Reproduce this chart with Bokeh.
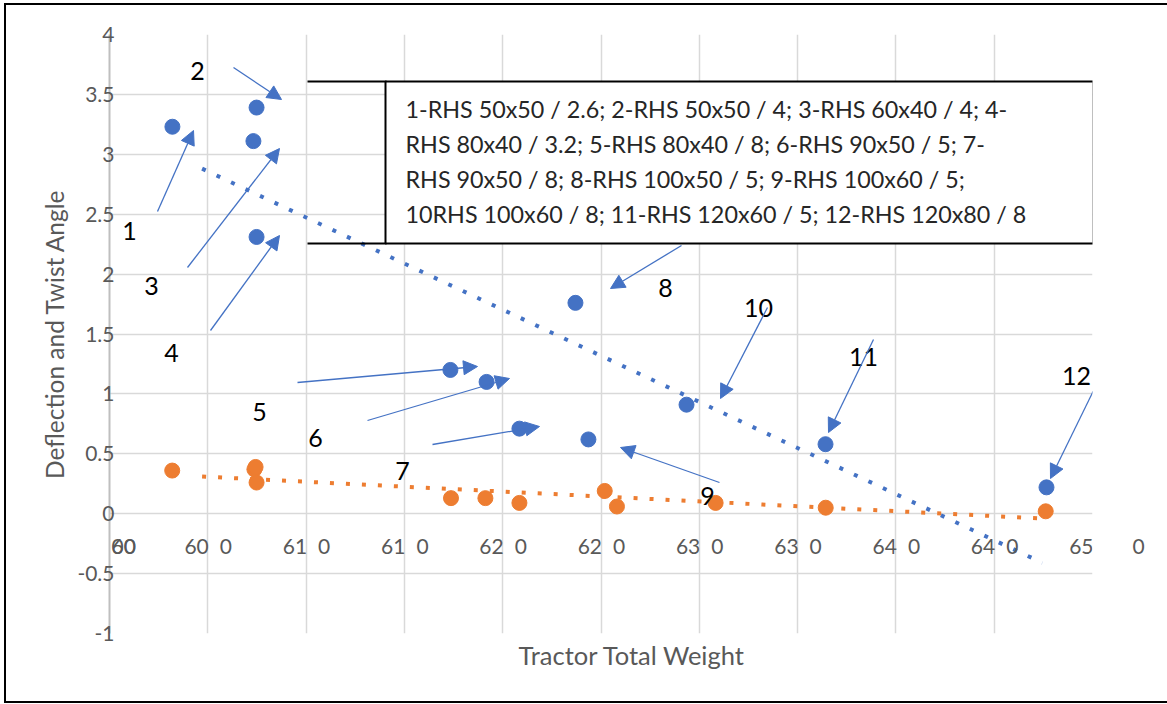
import numpy as np
from bokeh.plotting import figure
from bokeh.models import (Range1d, FixedTicker, NumeralTickFormatter, Label, Arrow,
                          NormalHead, BoxAnnotation, ColumnDataSource, Title, LinearAxis,
                          InlineStyleSheet)
from bokeh.core.properties import value
from bokeh.embed import file_html
from bokeh.resources import INLINE

# ---------------- data ----------------
weight_blue = [6032.0, 6074.8, 6073.2, 6074.8, 6173.4, 6191.8, 6208.5, 6237.0, 6243.6, 6293.5, 6364.2, 6476.6]
deflection = [3.23, 3.39, 3.11, 2.31, 1.20, 1.10, 0.71, 1.76, 0.62, 0.91, 0.58, 0.22]
weight_orange = [6031.9, 6073.7, 6074.3, 6074.8, 6173.7, 6191.2, 6208.5, 6251.9, 6258.1, 6308.3, 6364.3, 6476.2]
twist = [0.36, 0.37, 0.39, 0.26, 0.13, 0.13, 0.09, 0.19, 0.06, 0.09, 0.05, 0.02]

trend_weight = [6047.1, 6474.5]
trend_deflection = [2.88, -0.41]
trend_twist = [0.31, -0.04]

x_ticks = [6000, 6050, 6100, 6150, 6200, 6250, 6300, 6350, 6400, 6450, 6500]
x_tick_head = ["60", "60", "61", "61", "62", "62", "63", "63", "64", "64", "65"]
x_tick_tail = ["00", "0", "0", "0", "0", "0", "0", "0", "0", "0", "0"]
y_ticks = [-1, -0.5, 0, 0.5, 1, 1.5, 2, 2.5, 3, 3.5, 4]

point_labels = ["1", "2", "3", "4", "5", "6", "7", "8", "9", "10", "11", "12"]
legend_lines = [
    "1-RHS 50x50 / 2.6; 2-RHS 50x50 / 4; 3-RHS 60x40 / 4; 4-",
    "RHS 80x40 / 3.2; 5-RHS 80x40 / 8; 6-RHS 90x50 / 5; 7-",
    "RHS 90x50 / 8; 8-RHS 100x50 / 5; 9-RHS 100x60 / 5;",
    "10RHS 100x60 / 8; 11-RHS 120x60 / 5; 12-RHS 120x80 / 8",
]

BLUE = "#4472C4"
ORANGE = "#ED7D31"
GRAY_TXT = "#595959"
FONT = "Lato"
TICK_SIZE = "21px"

# ---------------- layout ----------------
W, H = 1167, 704
FL, FR, FT, FB = 109, 1092, 34, 633   # frame edges in pixels
X0, X1, Y0, Y1 = 6000, 6500, -1, 4


def px2x(px):
    return X0 + (px - FL) * (X1 - X0) / (FR - FL)


def px2y(py):
    return Y1 - (py - FT) * (Y1 - Y0) / (FB - FT)


p = figure(width=W, height=H, output_backend="svg", toolbar_location=None,
           x_range=Range1d(X0, X1), y_range=Range1d(Y0, Y1),
           min_border_left=FL, min_border_right=W - FR,
           min_border_top=FT, min_border_bottom=H - FB)
p.outline_line_color = None
p.background_fill_color = "white"
p.border_fill_color = "white"

# outer chart border (top, left, bottom; open on the right)
p.stylesheets = [InlineStyleSheet(css=(
    ":host::after { content: ''; position: absolute; left: 4px; top: 3px; "
    "width: 1163px; height: 700px; box-sizing: border-box; "
    "border-top: 2px solid #000; border-left: 2px solid #000; "
    "border-bottom: 2px solid #000; pointer-events: none; }"))]

p.xaxis.visible = False
p.xgrid.ticker = FixedTicker(ticks=x_ticks)
p.ygrid.ticker = FixedTicker(ticks=y_ticks)
for g in (p.xgrid[0], p.ygrid[0]):
    g.grid_line_color = "#D9D9D9"
    g.grid_line_width = 1.5

ya = p.yaxis[0]
ya.ticker = FixedTicker(ticks=y_ticks)
ya.formatter = NumeralTickFormatter(format="0.[0]")
ya.major_tick_out = 0
ya.major_tick_in = 0
ya.minor_tick_out = 0
ya.minor_tick_in = 0
ya.major_label_standoff = -5
ya.axis_line_color = "#BFBFBF"
ya.axis_line_width = 2
ya.major_label_text_font = FONT
ya.major_label_text_font_size = TICK_SIZE
ya.major_label_text_color = GRAY_TXT
ya.axis_label = "Deflection and Twist Angle"
ya.axis_label_text_font = FONT
ya.axis_label_text_font_size = "24.5px"
ya.axis_label_text_font_style = "normal"
ya.axis_label_text_color = GRAY_TXT
ya.axis_label_standoff = 5

# x axis title below the frame
p.add_layout(Title(text="Tractor Total Weight", align="left", offset=409,
                   text_font=FONT, text_font_size="25.5px", text_font_style="normal",
                   text_color=GRAY_TXT, standoff=8), "below")

# ---------------- trend lines ----------------
p.line(trend_weight, trend_deflection, line_color=BLUE, line_width=4,
       line_dash="4 12", line_cap="butt")
p.line(trend_weight, trend_twist, line_color=ORANGE, line_width=4,
       line_dash="4 12", line_cap="butt")

# ---------------- points ----------------
p.scatter(weight_blue, deflection, size=15, fill_color=BLUE, line_color=BLUE)
p.scatter(weight_orange, twist, size=15, fill_color=ORANGE, line_color=ORANGE)

# ---------------- point number labels ----------------
label_px = [(129, 230), (197, 70), (151, 285), (171, 352), (259, 411), (315, 437),
            (402, 470), (665, 287), (707, 495), (758, 307), (863, 356), (1076, 375)]
lsrc = ColumnDataSource(dict(x=[px2x(a) for a, b in label_px],
                             y=[px2y(b) for a, b in label_px],
                             t=point_labels))
p.text(x="x", y="y", text="t", source=lsrc, text_font=value(FONT),
       text_font_size="25px", text_color="black", text_align="center",
       text_baseline="middle")

# ---------------- arrows ----------------
arrow_px = [((157, 211), (193, 130)), ((233, 67), (281, 99)), ((187, 267), (279, 148)),
            ((210, 330), (279, 235)), ((297, 382), (477, 366)), ((367, 420), (509, 378)),
            ((432, 444), (539, 426)), ((681, 245), (610, 288)), ((719, 482), (620, 447)),
            ((767, 307), (720, 398)), ((873, 339), (828, 432)), ((1095, 386), (1050, 478))]

# ---------------- text box ----------------
p.segment(x0=[px2x(307), px2x(307)], y0=[px2y(81), px2y(243)],
          x1=[px2x(386), px2x(386)], y1=[px2y(81), px2y(243)],
          line_color="black", line_width=2)
p.add_layout(BoxAnnotation(left=px2x(385), right=px2x(1093), top=px2y(81), bottom=px2y(243),
                           fill_color="white", fill_alpha=1.0, line_color="black",
                           line_width=2, line_alpha=1.0))
for i, t in enumerate(legend_lines):
    p.add_layout(Label(x=px2x(405), y=px2y(108 + 35 * i), text=t, text_font=FONT,
                       text_font_size="23.3px", text_color="#262626",
                       text_align="left", text_baseline="middle"))

for (sx, sy), (ex, ey) in arrow_px:
    p.add_layout(Arrow(x_start=px2x(sx), y_start=px2y(sy), x_end=px2x(ex), y_end=px2y(ey),
                       line_color=BLUE, line_width=1.3,
                       end=NormalHead(size=14, fill_color=BLUE, line_color=BLUE, line_width=1)))

# ---------------- x tick labels (drawn as text inside the frame) ----------------
LBL_Y = px2y(546)
for i, (v, h, t) in enumerate(zip(x_ticks, x_tick_head, x_tick_tail)):
    gx = FL + (v - X0) * (FR - FL) / (X1 - X0)
    if i == 0:
        for s in (h, t):
            p.add_layout(Label(x=px2x(gx + 2), y=LBL_Y, text=s, text_font=FONT,
                               text_font_size=TICK_SIZE, text_color=GRAY_TXT,
                               text_align="left", text_baseline="middle"))
        continue
    p.add_layout(Label(x=px2x(gx + 1), y=LBL_Y, text=h, text_font=FONT,
                       text_font_size=TICK_SIZE, text_color=GRAY_TXT,
                       text_align="right", text_baseline="middle"))
    if i < len(x_ticks) - 1:
        p.add_layout(Label(x=px2x(gx + 12), y=LBL_Y, text=t, text_font=FONT,
                           text_font_size=TICK_SIZE, text_color=GRAY_TXT,
                           text_align="left", text_baseline="middle"))

# the last tick's trailing "0" sits outside the frame: shown by a right-side axis label
ra = LinearAxis(ticker=FixedTicker(ticks=[-0.27]),
                major_label_overrides={-0.27: x_tick_tail[-1]},
                axis_line_color=None, major_tick_out=0, major_tick_in=0,
                minor_tick_out=0, minor_tick_in=0, major_label_standoff=40,
                major_label_text_font=FONT, major_label_text_font_size=TICK_SIZE,
                major_label_text_color=GRAY_TXT)
p.add_layout(ra, "right")

open("out.html", "w").write(file_html(p, INLINE))
